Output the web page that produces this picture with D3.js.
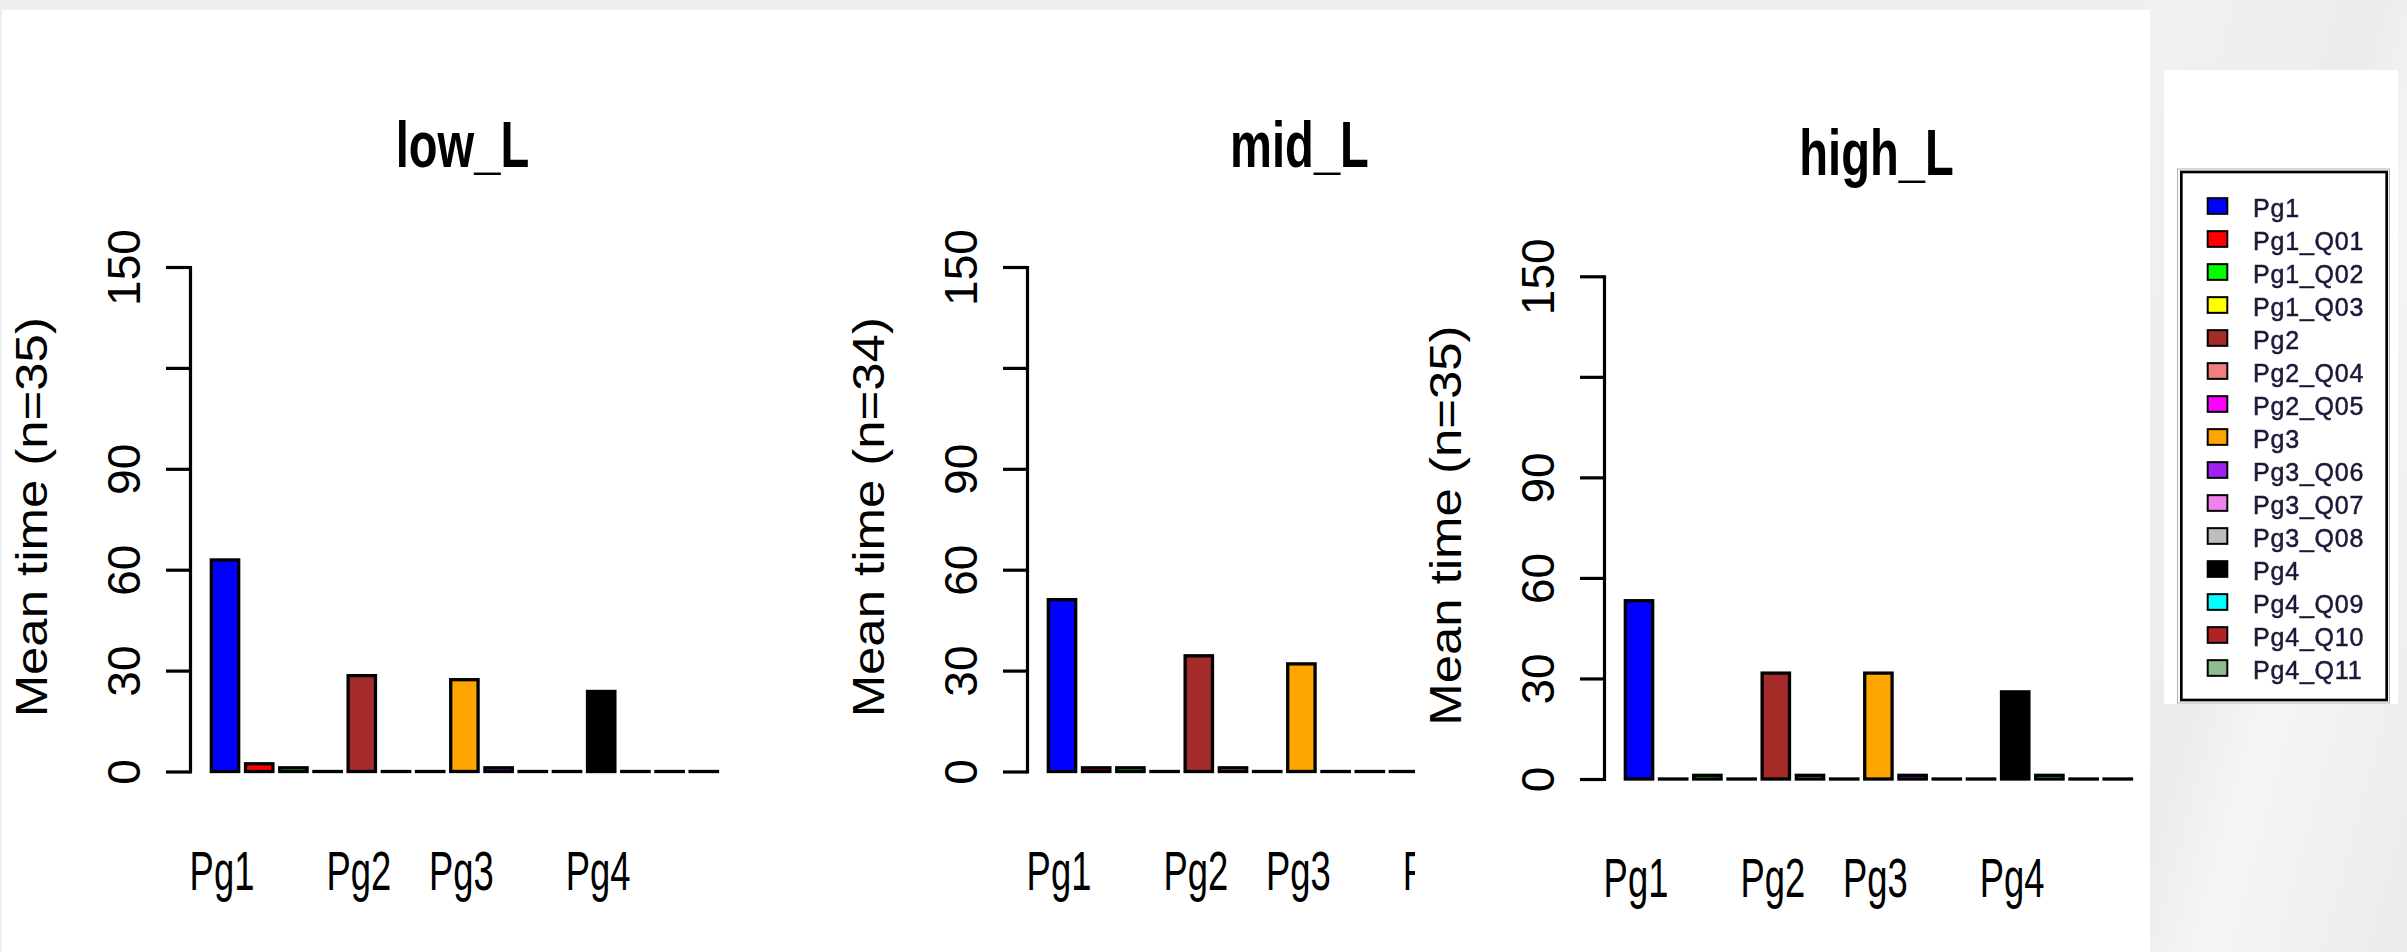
<!DOCTYPE html>
<html>
<head>
<meta charset="utf-8">
<script src="https://cdn.jsdelivr.net/npm/d3@7"></script>
<style>
  body { margin: 0; background: #efefef; }
  svg { display: block; }
  text { font-family: "Liberation Sans", Arial, sans-serif; }
</style>
</head>
<body>
<script>
// Figure size
var width = 2407,
    height = 952;

// series (bars) in plot order, R colours
var series = ["Pg1", "Pg1_Q01", "Pg1_Q02", "Pg1_Q03", "Pg2", "Pg2_Q04", "Pg2_Q05",
    "Pg3", "Pg3_Q06", "Pg3_Q07", "Pg3_Q08", "Pg4", "Pg4_Q09", "Pg4_Q10", "Pg4_Q11"];
var seriesColors = ["#0000FF", "#FF0000", "#00FF00", "#FFFF00", "#A52A2A", "#F08080", "#FF00FF",
    "#FFA500", "#A020F0", "#EE82EE", "#BEBEBE", "#000000", "#00FFFF", "#B22222", "#8FBC8F"];

// mean times
var lowValues  = [62.9, 2.3, 1.1, 0, 28.5, 0, 0, 27.3, 1.1, 0, 0, 23.8, 0, 0, 0];
var midValues  = [51.1, 1.1, 1.1, 0, 34.4, 1.1, 0, 32.0, 0, 0, 0, 26.0, 1.0, 0, 0];
var highValues = [53.2, 0, 1.1, 0, 31.6, 1.1, 0, 31.6, 1.1, 0, 0, 26.0, 1.1, 0, 0];

var panelTitles = ["low_L", "mid_L", "high_L"];
var panelN = [35, 34, 35];
var panelValues = [lowValues, midValues, highValues];

// names shown under the bars
var xLabels = ["Pg1", "Pg2", "Pg3", "Pg4"];

var yTicks = [0, 30, 60, 90, 120, 150];
var yTickLabels = ["0", "30", "60", "90", "", "150"];

// panel placement on the page
var panelLayout = [
    {axisX: 190, y0: 771.5, yTop: 267},
    {axisX: 1027, y0: 771.5, yTop: 267},
    {axisX: 1604, y0: 779, yTop: 276.3}
];

var svg = d3.select("body").append("svg")
    .attr("width", width)
    .attr("height", height);

var defs = svg.append("defs");
var grad = defs.append("linearGradient")
    .attr("id", "bgGrad")
    .attr("x1", "0").attr("y1", "0").attr("x2", "1").attr("y2", "1");
grad.append("stop").attr("offset", "0%").attr("stop-color", "#f1f1f1");
grad.append("stop").attr("offset", "45%").attr("stop-color", "#ececec");
grad.append("stop").attr("offset", "60%").attr("stop-color", "#f5f5f5");
grad.append("stop").attr("offset", "100%").attr("stop-color", "#ebebeb");

defs.append("filter").attr("id", "soft")
    .append("feGaussianBlur").attr("stdDeviation", 0.45);

// page background
svg.append("rect")
    .attr("x", 2150).attr("y", 0)
    .attr("width", width - 2150).attr("height", height)
    .attr("fill", "url(#bgGrad)");

// white plot image
svg.append("rect")
    .attr("x", 2).attr("y", 10)
    .attr("width", 2148).attr("height", height - 10)
    .attr("fill", "#ffffff");

function drawPanel(p) {
    var lay = panelLayout[p];
    var values = panelValues[p];

    var g = svg.append("g");

    if (p == 2) {
        // the third plot is pasted over the right edge of the second one
        g.append("rect")
            .attr("x", 1415).attr("y", 10)
            .attr("width", 2150 - 1415).attr("height", height - 10)
            .attr("fill", "#ffffff");
    }

    var yScale = d3.scaleLinear()
        .domain([0, 150])
        .range([lay.y0, lay.yTop]);

    var xScale = d3.scaleBand()
        .domain(series)
        .range([lay.axisX + 17.9, lay.axisX + 17.9 + 513])
        .paddingInner(0.2)
        .paddingOuter(0.1);

    g.selectAll("rect.bar")
        .data(values)
        .enter()
        .append("rect")
        .attr("class", "bar")
        .attr("x", function (d, i) { return xScale(series[i]); })
        .attr("y", function (d) { return yScale(d); })
        .attr("width", xScale.bandwidth())
        .attr("height", function (d) { return Math.max(lay.y0 - yScale(d), 0.01); })
        .attr("fill", function (d, i) { return seriesColors[i]; })
        .attr("stroke", "#000")
        .attr("stroke-width", 3.3);

    var yAxis = d3.axisLeft(yScale)
        .tickValues(yTicks)
        .tickSize(24)
        .tickSizeOuter(0)
        .tickFormat(function (d, i) { return yTickLabels[i]; });

    var ax = g.append("g")
        .attr("class", "axis y-axis")
        .attr("transform", "translate(" + lay.axisX + ",0)")
        .call(yAxis);

    ax.select(".domain")
        .attr("stroke", "#000")
        .attr("stroke-width", 3.2)
        .attr("stroke-linecap", "square");
    ax.selectAll(".tick line")
        .attr("stroke", "#000")
        .attr("stroke-width", 3.2);
    ax.selectAll(".tick text")
        .attr("x", 0)
        .attr("dy", 0)
        .attr("fill", "#000")
        .attr("font-size", 46)
        .attr("font-family", "Liberation Sans, Arial, sans-serif")
        .attr("text-anchor", "middle")
        .attr("transform", "translate(-50,0) rotate(-90)");

    // axis title, rotated
    g.append("text")
        .attr("text-anchor", "middle")
        .attr("font-size", 44)
        .attr("transform", "translate(" + (lay.axisX - 143.3) + "," + ((lay.y0 + lay.yTop) / 2 - 2) + ") rotate(-90) scale(1.157,1)")
        .text("Mean time (n=" + panelN[p] + ")");

    // plot title
    g.append("text")
        .attr("text-anchor", "middle")
        .attr("font-size", 65)
        .attr("font-weight", "bold")
        .attr("transform", "translate(" + (lay.axisX + 272.5) + "," + (lay.y0 - 604.5) + ") scale(0.725,1)")
        .text(panelTitles[p]);

    // bar names
    g.selectAll("text.xlab")
        .data(xLabels)
        .enter()
        .append("text")
        .attr("class", "xlab")
        .attr("text-anchor", "middle")
        .attr("font-size", 56)
        .attr("transform", function (d) {
            var cx = xScale(d) + xScale.bandwidth() / 2 - 3;
            return "translate(" + cx + "," + (lay.y0 + 118) + ") scale(0.65,1)";
        })
        .text(function (d) { return d; });
}

drawPanel(0);
drawPanel(1);
drawPanel(2);

// legend
svg.append("rect")
    .attr("x", 2164).attr("y", 70)
    .attr("width", 234).attr("height", 634)
    .attr("fill", "#ffffff");

var legend = svg.append("g").attr("filter", "url(#soft)");

legend.append("rect")
    .attr("x", 2177.5).attr("y", 169)
    .attr("width", 212).attr("height", 534)
    .attr("fill", "none")
    .attr("stroke", "#b0b0b0")
    .attr("stroke-width", 1);

legend.append("rect")
    .attr("x", 2181.3).attr("y", 172)
    .attr("width", 205.4).attr("height", 528)
    .attr("fill", "none")
    .attr("stroke", "#000")
    .attr("stroke-width", 2.7);

var rowScale = d3.scalePoint()
    .domain(series)
    .range([206, 206 + 33 * 14]);

legend.selectAll("rect.key")
    .data(series)
    .enter()
    .append("rect")
    .attr("class", "key")
    .attr("x", 2207.7)
    .attr("y", function (d) { return rowScale(d) - 7.85; })
    .attr("width", 19.6)
    .attr("height", 15.7)
    .attr("fill", function (d, i) { return seriesColors[i]; })
    .attr("stroke", "#000")
    .attr("stroke-width", 2);

legend.selectAll("text.key")
    .data(series)
    .enter()
    .append("text")
    .attr("class", "key")
    .attr("x", 2253)
    .attr("y", function (d) { return rowScale(d) + 10.7; })
    .attr("font-size", 25)
    .attr("letter-spacing", 0.8)
    .attr("fill", "#1a1a3a")
    .attr("stroke", "#1a1a3a")
    .attr("stroke-width", 0.5)
    .text(function (d) { return d; });
</script>
</body>
</html>
